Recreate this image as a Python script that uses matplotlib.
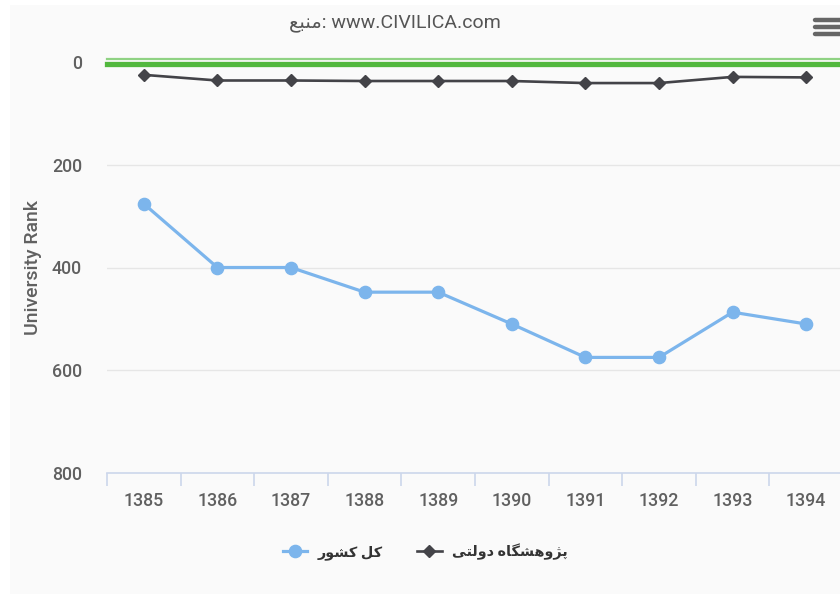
import matplotlib
matplotlib.use("Agg")
import matplotlib.pyplot as plt
from matplotlib.patches import Rectangle
from matplotlib.lines import Line2D
import numpy as np

# ---------------- data ----------------
years = ["1385", "1386", "1387", "1388", "1389", "1390", "1391", "1392", "1393", "1394"]
country_rank = [276, 400, 400, 448, 448, 510, 575, 575, 487, 510]      # کل کشور
gov_rank = [25, 36, 36, 37, 37, 37, 41, 41, 29, 30]                      # پژوهشگاه دولتی
series_names = ["\u06A9\u0644 \u06A9\u0634\u0648\u0631",
                "\u067E\u0698\u0648\u0647\u0634\u06AF\u0627\u0647 \u062F\u0648\u0644\u062A\u06CC"]
source_word = "\u0645\u0646\u0628\u0639"   # منبع
source_site = "www.CIVILICA.com"
y_label = "University Rank"
y_ticks = [0, 200, 400, 600, 800]

# ------------- minimal Arabic/Persian shaping for display -------------
FORMS = {
    '\u0627': ('\uFE8D', '\uFE8E', None, None),
    '\u0628': ('\uFE8F', '\uFE90', '\uFE91', '\uFE92'),
    '\u067E': ('\uFB56', '\uFB57', '\uFB58', '\uFB59'),
    '\u062A': ('\uFE95', '\uFE96', '\uFE97', '\uFE98'),
    '\u062F': ('\uFEA9', '\uFEAA', None, None),
    '\u0631': ('\uFEAD', '\uFEAE', None, None),
    '\u0698': ('\uFB8A', '\uFB8B', None, None),
    '\u0634': ('\uFEB5', '\uFEB6', '\uFEB7', '\uFEB8'),
    '\u0639': ('\uFEC9', '\uFECA', '\uFECB', '\uFECC'),
    '\u06A9': ('\uFB8E', '\uFB8F', '\uFB90', '\uFB91'),
    '\u06AF': ('\uFB92', '\uFB93', '\uFB94', '\uFB95'),
    '\u0644': ('\uFEDD', '\uFEDE', '\uFEDF', '\uFEE0'),
    '\u0645': ('\uFEE1', '\uFEE2', '\uFEE3', '\uFEE4'),
    '\u0646': ('\uFEE5', '\uFEE6', '\uFEE7', '\uFEE8'),
    '\u0647': ('\uFEE9', '\uFEEA', '\uFEEB', '\uFEEC'),
    '\u0648': ('\uFEED', '\uFEEE', None, None),
    '\u06CC': ('\uFBFC', '\uFBFD', '\uFBFE', '\uFBFF'),
}


def shape(s):
    out = []
    for i, c in enumerate(s):
        if c not in FORMS:
            out.append(c)
            continue
        iso, fin, ini, med = FORMS[c]
        prev = s[i - 1] if i > 0 else None
        nxt = s[i + 1] if i + 1 < len(s) else None
        jp = prev in FORMS and FORMS[prev][2] is not None
        jn = ini is not None and nxt in FORMS
        if jp and jn:
            out.append(med)
        elif jp:
            out.append(fin)
        elif jn:
            out.append(ini)
        else:
            out.append(iso)
    return "".join(out)


def rtl(s):
    return shape(s)[::-1]


# ---------------- figure ----------------
W, H = 840, 594
fig = plt.figure(figsize=(W / 100, H / 100), dpi=100, facecolor="white")
fig.patches.append(Rectangle((10 / W, 0), 830 / W, 589 / H, transform=fig.transFigure,
                             facecolor="#fafafa", edgecolor="none", zorder=-10))

FAM = ["Roboto", "DejaVu Sans"]
ax = fig.add_axes([107 / W, 121 / H, 736 / W, 411 / H])
ax.patch.set_visible(False)
x = np.arange(len(years))

ax.set_xlim(-0.5, len(years) - 0.5)
ax.set_ylim(800, 0)

# grid
for yv in y_ticks[1:-1]:
    ax.axhline(yv, color="#e6e6e6", lw=1, zorder=1)

# green zero line
ax.axhline(-6, color="#8fd283", lw=1.6, zorder=2, clip_on=False)
ax.axhline(3, color="#52b83e", lw=3.8, zorder=2, clip_on=False)

l_gov, = ax.plot(x, gov_rank, color="#434348", lw=1.9, marker="D", markersize=6.5,
                 zorder=4, clip_on=False)
l_cty, = ax.plot(x, country_rank, color="#7cb5ec", lw=2.3, marker="o", markersize=8.8,
                 zorder=5, clip_on=False)

# axes styling
for s in ["top", "right", "left"]:
    ax.spines[s].set_visible(False)
ax.spines["bottom"].set_color("#ccd6eb")
ax.spines["bottom"].set_linewidth(1.2)

ax.set_yticks(y_ticks)
ax.set_yticklabels([str(v) for v in y_ticks], fontfamily=FAM, fontweight="medium")
ax.tick_params(axis="y", length=0, pad=18, labelsize=12.8, labelcolor="#606060")

ax.set_xticks(x)
ax.set_xticklabels(years, fontfamily=FAM, fontweight="medium")
ax.tick_params(axis="x", which="major", length=0, pad=14, labelsize=12.8, labelcolor="#606060")
ax.set_xticks(np.arange(-0.5, len(years), 1.0), minor=True)
ax.tick_params(axis="x", which="minor", length=9, width=1.2, color="#ccd6eb", direction="out")

fig.text(33 / W, 1 - 268 / H, y_label, rotation=90, ha="center", va="center",
         fontsize=14, fontweight="medium", color="#606060", fontfamily=FAM)

# title
fig.text(395 / W, 1 - 23 / H, rtl(source_word) + ": " + source_site, ha="center", va="center",
         fontsize=14, color="#555555", fontfamily=FAM)

# legend
leg = fig.legend([l_cty, l_gov], [rtl(n) for n in series_names], loc="center",
                 bbox_to_anchor=(425 / W, 1 - 552 / H), ncol=2, frameon=False,
                 handlelength=1.7, handletextpad=0.7, columnspacing=2.4,
                 prop={"family": FAM, "weight": "bold", "size": 10.4})
for t in leg.get_texts():
    t.set_color("#333333")

# menu icon
for yy in (20, 27, 34):
    fig.add_artist(Line2D([815 / W, 840 / W], [1 - yy / H, 1 - yy / H], color="#666666",
                          lw=3.2, transform=fig.transFigure, solid_capstyle="round"))

fig.savefig("out.png", dpi=100, facecolor="white")
